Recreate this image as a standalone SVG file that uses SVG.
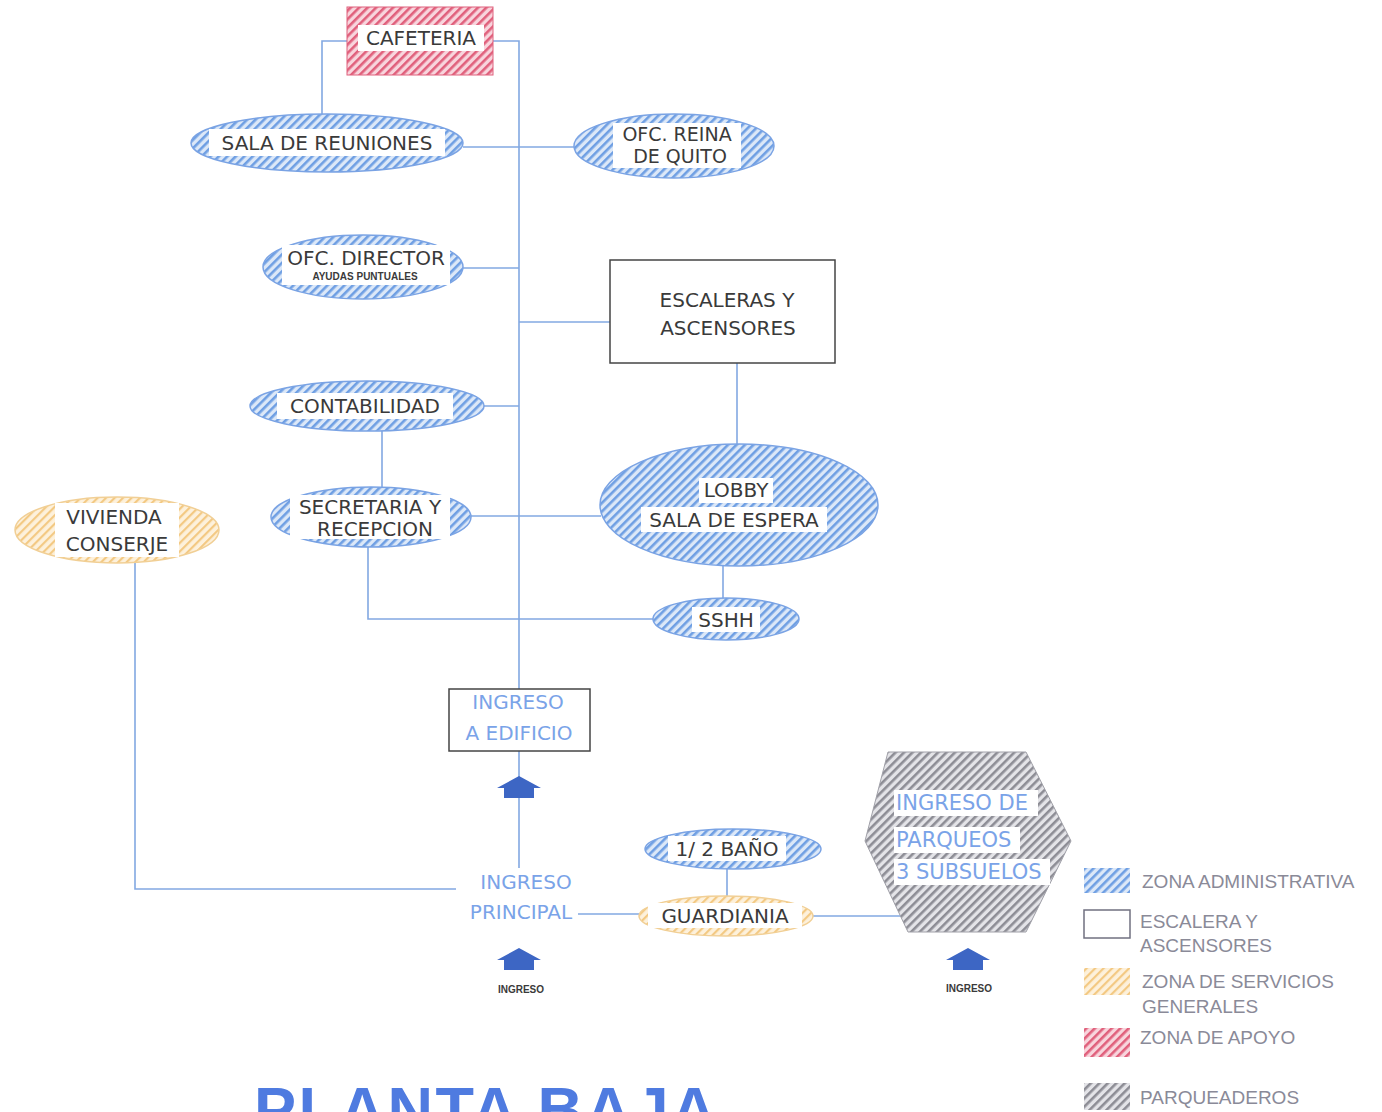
<svg xmlns="http://www.w3.org/2000/svg" width="1382" height="1112" viewBox="0 0 1382 1112">
<defs>
<pattern id="hBlue" patternUnits="userSpaceOnUse" width="6" height="6" patternTransform="rotate(45)">
<rect width="6" height="6" fill="#dce8f8"/><rect width="2.6" height="6" fill="#6f9fe3"/>
</pattern>
<pattern id="hOrange" patternUnits="userSpaceOnUse" width="6" height="6" patternTransform="rotate(45)">
<rect width="6" height="6" fill="#fdf1dc"/><rect width="2.2" height="6" fill="#f3c983"/>
</pattern>
<pattern id="hPink" patternUnits="userSpaceOnUse" width="6" height="6" patternTransform="rotate(45)">
<rect width="6" height="6" fill="#f8d5dd"/><rect width="2.6" height="6" fill="#e0607c"/>
</pattern>
<pattern id="hGray" patternUnits="userSpaceOnUse" width="6" height="6" patternTransform="rotate(45)">
<rect width="6" height="6" fill="#e4e4e8"/><rect width="2.6" height="6" fill="#8d8d95"/>
</pattern>
<symbol id="house" viewBox="0 0 44 22" overflow="visible">
<polygon points="22,0 44,12 37,12 37,22 7,22 7,12 0,12" fill="#3d66c4"/>
</symbol>
</defs>
<style>
.ln{stroke:#82a8e2;stroke-width:1.6;fill:none}
.blue{fill:url(#hBlue);stroke:#7aa3e4;stroke-width:1.5}
.orange{fill:url(#hOrange);stroke:#f1cf95;stroke-width:1.5}
.pink{fill:url(#hPink);stroke:#e0607c;stroke-width:1}
.gray{fill:url(#hGray);stroke:#a0a0a8;stroke-width:1}
.bg{fill:#ffffff}
.t{font-family:"DejaVu Sans",sans-serif;font-size:20px;fill:#3a3a3a;text-anchor:middle}
.tb{font-family:"DejaVu Sans",sans-serif;font-size:20px;fill:#7aa3e8;text-anchor:middle}
.tp{font-family:"DejaVu Sans",sans-serif;font-size:21px;fill:#7aa3e8;text-anchor:start}
.small{font-family:"Liberation Sans",Arial,sans-serif;font-size:10px;font-weight:bold;fill:#3a3a3a;text-anchor:middle}
.lg{font-family:"Liberation Sans",Arial,sans-serif;font-size:19px;fill:#8a8a98}
.title{font-family:"Liberation Sans",Arial,sans-serif;font-size:63px;font-weight:bold;fill:#4f7be0;letter-spacing:2.5px}
</style>
<rect width="1382" height="1112" fill="#ffffff"/>

<g id="connectors">
<polyline class="ln" points="493,41 519,41 519,689"/>
<polyline class="ln" points="347,41 322,41 322,117"/>
<line class="ln" x1="463" y1="147" x2="575" y2="147"/>
<line class="ln" x1="463" y1="268" x2="519" y2="268"/>
<line class="ln" x1="519" y1="322" x2="610" y2="322"/>
<line class="ln" x1="484" y1="406" x2="519" y2="406"/>
<line class="ln" x1="382" y1="431" x2="382" y2="489"/>
<line class="ln" x1="471" y1="516" x2="601" y2="516"/>
<line class="ln" x1="737" y1="363" x2="737" y2="444"/>
<line class="ln" x1="723" y1="566" x2="723" y2="600"/>
<polyline class="ln" points="368,547 368,619 653,619"/>
<polyline class="ln" points="135,563 135,889 456,889"/>
<line class="ln" x1="519" y1="751" x2="519" y2="778"/>
<line class="ln" x1="519" y1="797" x2="519" y2="868"/>
<line class="ln" x1="578" y1="914" x2="640" y2="914"/>
<line class="ln" x1="727" y1="869" x2="727" y2="896"/>
<line class="ln" x1="813" y1="916" x2="906" y2="916"/>
</g>

<g id="cafeteria">
<rect class="pink" x="347" y="7" width="146" height="68"/>
<rect class="bg" x="358" y="25" width="126" height="26"/>
<text class="t" x="421" y="45">CAFETERIA</text>
</g>

<g id="sala-reuniones">
<ellipse class="blue" cx="327" cy="143" rx="136" ry="29"/>
<rect class="bg" x="209" y="129" width="236" height="27"/>
<text class="t" x="327" y="150">SALA DE REUNIONES</text>
</g>

<g id="ofc-reina">
<ellipse class="blue" cx="674" cy="146" rx="100" ry="32"/>
<rect class="bg" x="613" y="123" width="128" height="45"/>
<text class="t" x="677" y="141" style="font-size:19px">OFC. REINA</text>
<text class="t" x="680" y="163" style="font-size:19px">DE QUITO</text>
</g>

<g id="ofc-director">
<ellipse class="blue" cx="363" cy="267" rx="100" ry="32"/>
<rect class="bg" x="282" y="245" width="168" height="40"/>
<text class="t" x="366" y="265">OFC. DIRECTOR</text>
<text class="small" x="365" y="280">AYUDAS PUNTUALES</text>
</g>

<g id="escaleras">
<rect x="610" y="260" width="225" height="103" fill="#ffffff" stroke="#444" stroke-width="1.5"/>
<text class="t" x="727" y="307">ESCALERAS Y</text>
<text class="t" x="728" y="335">ASCENSORES</text>
</g>

<g id="contabilidad">
<ellipse class="blue" cx="367" cy="406" rx="117" ry="25"/>
<rect class="bg" x="277" y="393" width="176" height="26"/>
<text class="t" x="365" y="413">CONTABILIDAD</text>
</g>

<g id="secretaria">
<ellipse class="blue" cx="371" cy="517" rx="100" ry="30"/>
<rect class="bg" x="290" y="495" width="160" height="44"/>
<text class="t" x="370" y="514">SECRETARIA Y</text>
<text class="t" x="375" y="536">RECEPCION</text>
</g>

<g id="vivienda">
<ellipse class="orange" cx="117" cy="530" rx="102" ry="33"/>
<rect class="bg" x="55" y="503" width="124" height="54"/>
<text class="t" x="114" y="524">VIVIENDA</text>
<text class="t" x="117" y="551">CONSERJE</text>
</g>

<g id="lobby">
<ellipse class="blue" cx="739" cy="505" rx="139" ry="61"/>
<rect class="bg" x="699" y="478" width="74" height="25"/>
<rect class="bg" x="641" y="507" width="186" height="25"/>
<text class="t" x="736" y="497">LOBBY</text>
<text class="t" x="734" y="527">SALA DE ESPERA</text>
</g>

<g id="sshh">
<ellipse class="blue" cx="726" cy="619" rx="73" ry="21"/>
<rect class="bg" x="692" y="607" width="68" height="25"/>
<text class="t" x="726" y="627">SSHH</text>
</g>

<g id="ingreso-edificio">
<rect x="449" y="689" width="141" height="62" fill="#ffffff" stroke="#444" stroke-width="1.5"/>
<text class="tb" x="518" y="709">INGRESO</text>
<text class="tb" x="519" y="740">A EDIFICIO</text>
</g>

<g id="arrow-edificio">
<use href="#house" x="497" y="776" width="44" height="22"/>
</g>

<g id="ingreso-principal">
<text class="tb" x="526" y="889">INGRESO</text>
<text class="tb" x="521" y="919">PRINCIPAL</text>
</g>

<g id="ingreso-1">
<use href="#house" x="497" y="948" width="44" height="22"/>
<text class="small" x="521" y="993">INGRESO</text>
</g>

<g id="medio-bano">
<ellipse class="blue" cx="733" cy="849" rx="88" ry="20"/>
<rect class="bg" x="668" y="836" width="118" height="25"/>
<text class="t" x="727" y="856">1/ 2 BAÑO</text>
</g>

<g id="guardiania">
<ellipse class="orange" cx="726" cy="916" rx="87" ry="20"/>
<rect class="bg" x="648" y="903" width="154" height="25"/>
<text class="t" x="725" y="923">GUARDIANIA</text>
</g>

<g id="parqueos">
<polygon class="gray" points="888,752 1026,752 1071,841 1026,932 908,932 865,841"/>
<rect class="bg" x="894" y="790" width="144" height="26"/>
<rect class="bg" x="894" y="827" width="126" height="26"/>
<rect class="bg" x="894" y="859" width="156" height="26"/>
<text class="tp" x="896" y="810">INGRESO DE</text>
<text class="tp" x="896" y="847">PARQUEOS</text>
<text class="tp" x="896" y="879">3 SUBSUELOS</text>
</g>

<g id="ingreso-2">
<use href="#house" x="946" y="948" width="44" height="22"/>
<text class="small" x="969" y="992">INGRESO</text>
</g>

<g id="legend">
<rect class="blue" x="1084" y="868" width="46" height="25" style="stroke:none"/>
<text class="lg" x="1142" y="888">ZONA ADMINISTRATIVA</text>
<rect x="1084" y="910" width="46" height="28" fill="#ffffff" stroke="#707080" stroke-width="1.5"/>
<text class="lg" x="1140" y="928">ESCALERA Y</text>
<text class="lg" x="1140" y="952">ASCENSORES</text>
<rect class="orange" x="1084" y="968" width="46" height="27" style="stroke:none"/>
<text class="lg" x="1142" y="988">ZONA DE SERVICIOS</text>
<text class="lg" x="1142" y="1013">GENERALES</text>
<rect class="pink" x="1084" y="1028" width="46" height="29" style="stroke:none"/>
<text class="lg" x="1140" y="1044">ZONA DE APOYO</text>
<rect class="gray" x="1084" y="1083" width="46" height="27" style="stroke:none"/>
<text class="lg" x="1140" y="1104">PARQUEADEROS</text>
</g>

<text class="title" x="254" y="1131">PLANTA BAJA</text>
</svg>
